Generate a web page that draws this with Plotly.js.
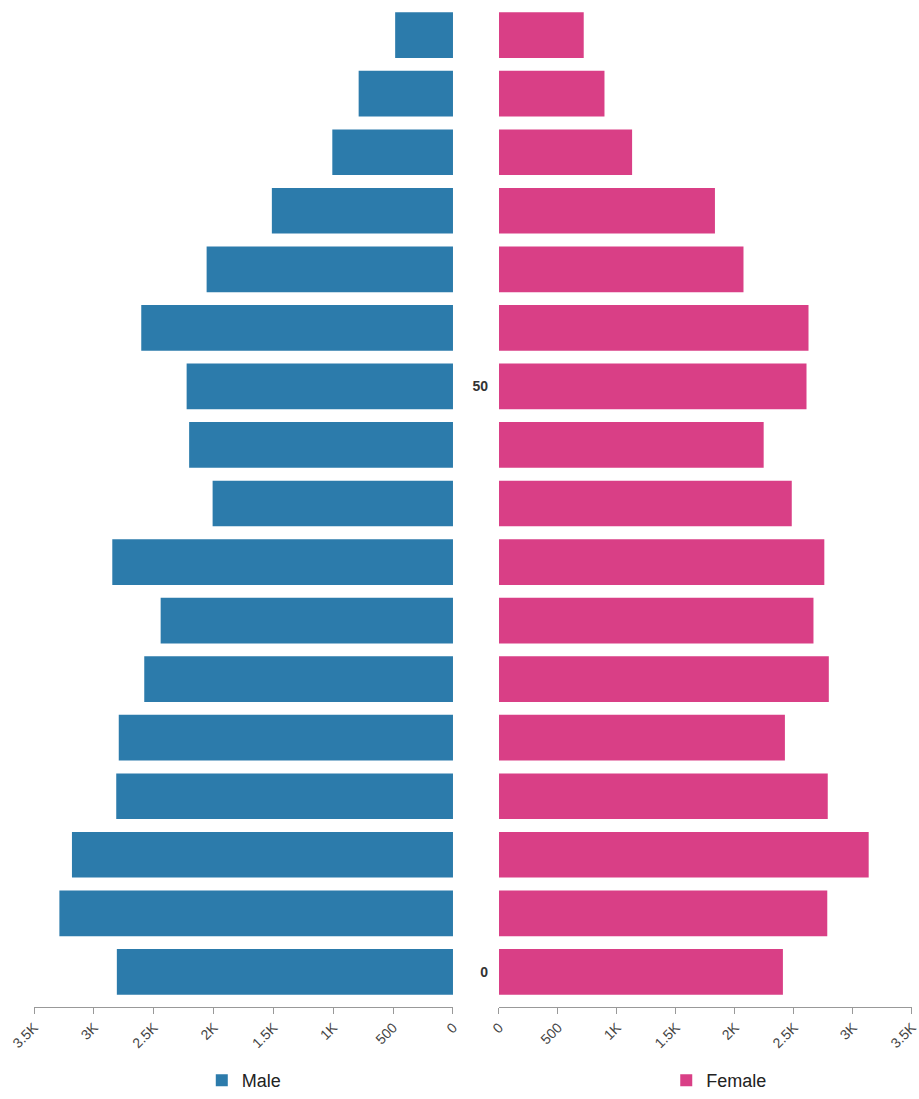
<!DOCTYPE html>
<html>
<head>
<meta charset="utf-8">
<script src="https://cdn.plot.ly/plotly-3.0.1.min.js"></script>
<style>html,body{margin:0;padding:0;background:#fff;}#chart{width:919px;height:1099px;}</style>
</head>
<body>
<div id="chart"></div>
<script>
const ages = [0, 5, 10, 15, 20, 25, 30, 35, 40, 45, 50, 55, 60, 65, 70, 75, 80];
const male = [2808, 3288, 3183, 2813, 2792, 2579, 2442, 2846, 2008, 2204, 2225, 2604, 2058, 1513, 1008, 788, 483];
const female = [2406, 2782, 3133, 2786, 2423, 2795, 2665, 2757, 2481, 2243, 2606, 2623, 2072, 1830, 1128, 894, 718];
const xTickVals = [0, 500, 1000, 1500, 2000, 2500, 3000, 3500];
const xTickText = ['0', '500', '1K', '1.5K', '2K', '2.5K', '3K', '3.5K'];
const yTickVals = [0, 50];
const yTickText = ['0', '50'];

const maleColor = '#2c7bab';
const femaleColor = '#d93f86';

const traces = [
  {type: 'bar', orientation: 'h', name: 'Male', x: male, y: ages, xaxis: 'x', yaxis: 'y',
   marker: {color: maleColor}, legend: 'legend', hoverinfo: 'x+y'},
  {type: 'bar', orientation: 'h', name: 'Female', x: female, y: ages, xaxis: 'x2', yaxis: 'y',
   marker: {color: femaleColor}, legend: 'legend2', hoverinfo: 'x+y'}
];

const axisCommon = {
  showgrid: false, zeroline: false, showline: true, linecolor: '#999', linewidth: 1,
  ticks: 'outside', ticklen: 6, tickcolor: '#999', tickangle: -45,
  tickvals: xTickVals, ticktext: xTickText, ticklabeloverflow: 'allow',
  tickfont: {family: 'Liberation Sans, Arial, sans-serif', size: 14, color: '#444'},
  anchor: 'y', fixedrange: true
};

const layout = {
  width: 919, height: 1099,
  margin: {l: 34, r: 7, t: 0, b: 89},
  paper_bgcolor: '#fff', plot_bgcolor: '#fff',
  font: {family: 'Liberation Sans, Arial, sans-serif', color: '#222'},
  bargap: 0.22,
  xaxis: Object.assign({}, axisCommon, {domain: [0, 0.4772], range: [3500, 0]}),
  xaxis2: Object.assign({}, axisCommon, {domain: [0.5296, 1], range: [0, 3500]}),
  yaxis: {
    anchor: 'x2', side: 'left', range: [-3, 83], showgrid: false, zeroline: false,
    showline: false, ticks: '', tickvals: yTickVals, ticktext: yTickText,
    ticklabelstandoff: 10,
    tickfont: {family: 'Liberation Sans, Arial, sans-serif', size: 14, color: '#333', weight: 'bold'},
    fixedrange: true
  },
  showlegend: true,
  legend: {x: 0.1911, xanchor: 'left', y: -0.0733, yanchor: 'middle', orientation: 'h',
           font: {size: 18, color: '#222'}, bgcolor: 'rgba(0,0,0,0)'},
  legend2: {x: 0.7201, xanchor: 'left', y: -0.0733, yanchor: 'middle', orientation: 'h',
            font: {size: 18, color: '#222'}, bgcolor: 'rgba(0,0,0,0)'}
};

Plotly.newPlot('chart', traces, layout, {displayModeBar: false, staticPlot: false});
</script>
</body>
</html>
